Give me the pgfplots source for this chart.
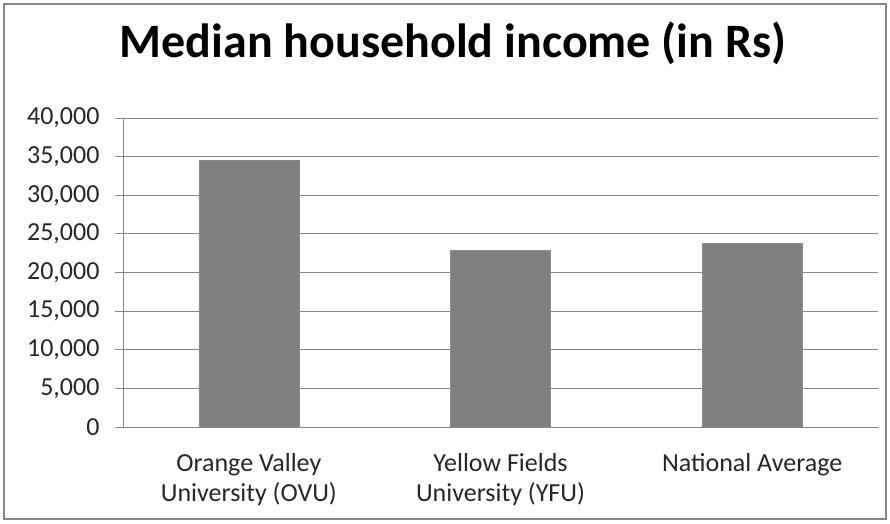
\documentclass[border=0pt]{standalone}
\usepackage{pgfplots}
\pgfplotsset{compat=1.18}
\usepackage{fontspec}
\setmainfont{Carlito}
\definecolor{barfill}{HTML}{7F7F7F}
\definecolor{axisgray}{HTML}{868686}
\begin{document}
\begin{tikzpicture}[x=1pt,y=1pt]
\useasboundingbox (-123,-96) rectangle (767,427);
\draw[axisgray, line width=1.6pt] (-119,-92) rectangle (763,423);
\node[font=\fontsize{48}{54}\selectfont\bfseries] at (330,384) {Median household income (in Rs)};
\begin{axis}[
    at={(0,0)}, anchor=south west,
    scale only axis,
    width=755pt, height=309pt,
    xmin=-0.5, xmax=2.5,
    ymin=0, ymax=40000,
    ytick={0,5000,...,40000},
    scaled y ticks=false,
    xtick={0,1,2},
    xticklabels={{Orange Valley\\University (OVU)},{Yellow Fields\\University (YFU)},{National Average}},
    extra x ticks={-0.5,0.5,1.5,2.5},
    extra x tick labels={},
    extra x tick style={major tick length=8pt, tick style={axisgray, line width=0.8pt}},
    x tick style={draw=none},
    y tick style={axisgray, line width=0.8pt},
    major tick length=8pt,
    tick align=outside,
    xtick pos=bottom, ytick pos=left,
    ymajorgrids,
    grid style={axisgray, line width=0.8pt},
    axis line style={axisgray, line width=0.8pt},
    axis x line*=bottom, axis y line*=left,
    /pgf/number format/.cd, fixed, 1000 sep={,}, assume math mode=true,
    /pgfplots/.cd,
    yticklabel style={font=\fontsize{26}{30}\selectfont, text=black!85, xshift=-12pt},
    xticklabel style={font=\fontsize{26}{30}\selectfont, text=black!85, align=center, anchor=north, yshift=-15pt},
    ybar, bar width=100pt,
]
\addplot[fill=barfill, draw=barfill!90!white] coordinates {(0,34500) (1,22900) (2,23800)};
\end{axis}
\end{tikzpicture}
\end{document}
